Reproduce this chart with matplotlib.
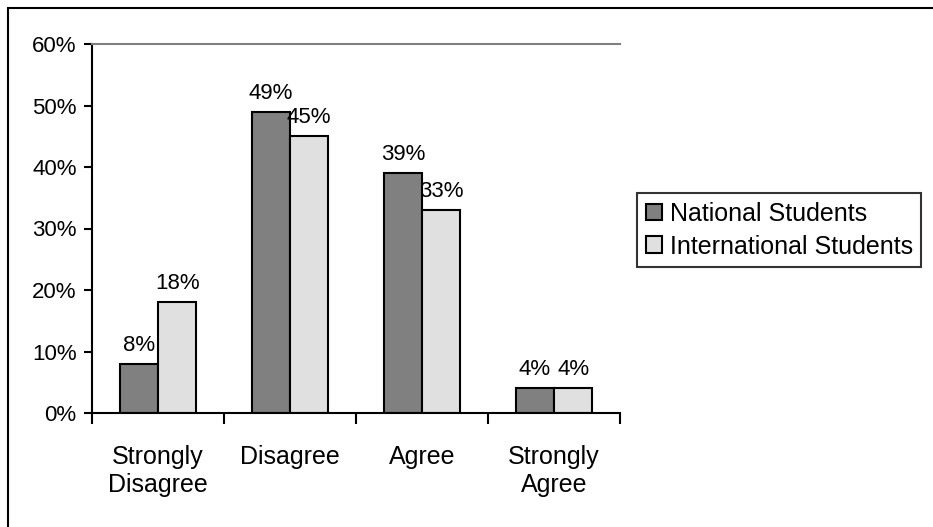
import matplotlib.pyplot as plt
import numpy as np
from matplotlib.patches import Rectangle

plt.rcParams.update({
    "font.family": ["Liberation Sans", "DejaVu Sans"],
    "font.size": 16,
})

categories = ["Strongly\nDisagree", "Disagree", "Agree", "Strongly\nAgree"]
national = [8, 49, 39, 4]
international = [18, 45, 33, 4]
series_names = ["National Students", "International Students"]

fig = plt.figure(figsize=(9.33, 5.27), dpi=100)
ax = fig.add_axes([92 / 933, (527 - 413) / 527, 528 / 933, 369 / 527])

# chart frame: only top and left edges fall inside the image
fig.patches.append(Rectangle((8 / 933, -0.05), 1.0, 1.05 - 8 / 527,
                             transform=fig.transFigure, fill=False,
                             edgecolor="black", lw=1.5, clip_on=False))

x = np.arange(len(categories))
w = 0.29
b1 = ax.bar(x - w / 2, national, w, color="#808080", edgecolor="black",
            lw=1.5, label=series_names[0])
b2 = ax.bar(x + w / 2, international, w, color="#e0e0e0", edgecolor="black",
            lw=1.5, label=series_names[1])

for bars, vals in ((b1, national), (b2, international)):
    for bar, v in zip(bars, vals):
        ax.text(bar.get_x() + bar.get_width() / 2, v + 1.3, f"{v}%",
                ha="center", va="bottom", fontsize=16)

ax.set_xlim(-0.5, len(categories) - 0.5)
ax.set_ylim(0, 60)
ax.set_yticks(range(0, 61, 10))
ax.set_yticklabels([f"{t}%" for t in range(0, 61, 10)])
ax.set_xticks(np.arange(len(categories) + 1) - 0.5)
ax.set_xticklabels([])
ax.set_xticks(x, minor=True)
ax.set_xticklabels(categories, minor=True, fontsize=18, linespacing=1.2)
ax.tick_params(axis="x", which="major", length=8, width=1.5, direction="out")
ax.tick_params(axis="x", which="minor", length=0, pad=23)
ax.tick_params(axis="y", length=6, width=1.5, direction="out", pad=5)

ax.spines["right"].set_visible(False)
ax.spines["top"].set_color("#808080")
ax.spines["top"].set_linewidth(1.5)
ax.spines["left"].set_linewidth(1.5)
ax.spines["bottom"].set_linewidth(1.5)

leg = fig.legend(loc="upper left", bbox_to_anchor=(637 / 933, 1 - 193 / 527),
                 frameon=True, fancybox=False, edgecolor="black",
                 fontsize=18, handlelength=0.65, handleheight=0.65,
                 handletextpad=0.3, borderpad=0.35, labelspacing=0.35,
                 borderaxespad=0)
leg.get_frame().set_linewidth(1.5)

fig.savefig("out.png", dpi=100)
